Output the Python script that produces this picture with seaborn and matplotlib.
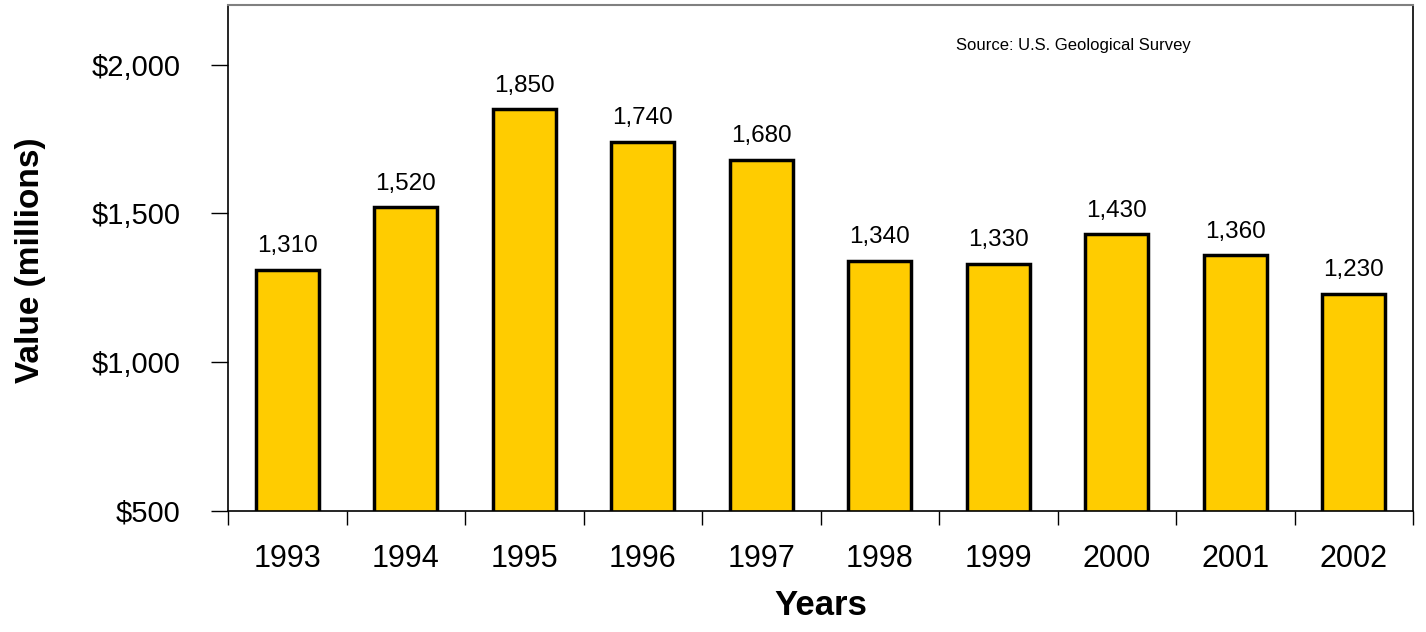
import matplotlib
matplotlib.use("Agg")
import matplotlib.pyplot as plt
import seaborn as sns
import pandas as pd
from matplotlib.ticker import FixedLocator, FuncFormatter

years = ["1993", "1994", "1995", "1996", "1997", "1998", "1999", "2000", "2001", "2002"]
values = [1310, 1520, 1850, 1740, 1680, 1340, 1330, 1430, 1360, 1230]
y_ticks = [500, 1000, 1500, 2000]
source_text = "Source: U.S. Geological Survey"

sns.set_style("white")
plt.rcParams['font.family'] = ['Liberation Sans', 'DejaVu Sans']
plt.rcParams['text.color'] = 'black'
plt.rcParams['axes.labelcolor'] = 'black'
plt.rcParams['xtick.color'] = 'black'
plt.rcParams['ytick.color'] = 'black'

fig = plt.figure(figsize=(14.26, 6.32), dpi=100)
ax = fig.add_axes([228/1426, 1-511/632, (1413-228)/1426, (511-5)/632])

df = pd.DataFrame({"Year": years, "Value": values})
sns.barplot(data=df, x="Year", y="Value", color="#FFCC00", width=0.53,
            edgecolor="black", linewidth=2.5, saturation=1, ax=ax)

ax.set_ylim(500, 2200)
ax.set_xlim(-0.5, len(years) - 0.5)

ax.yaxis.set_major_locator(FixedLocator(y_ticks))
ax.yaxis.set_major_formatter(FuncFormatter(lambda v, p: f"${v:,.0f}"))
ax.tick_params(axis='y', which='major', direction='out', length=12, width=1,
               color='black', labelcolor='black', labelsize=21, pad=22, left=True)

ax.set_xticks(range(len(years)))
ax.set_xticklabels(years)
ax.tick_params(axis='x', which='major', length=0, labelsize=22, pad=24,
               labelcolor='black')
ax.set_xticks([i - 0.5 for i in range(len(years) + 1)], minor=True)
ax.tick_params(axis='x', which='minor', direction='out', length=10, width=1,
               color='black', bottom=True)

for s in ['left', 'bottom', 'right']:
    ax.spines[s].set_visible(True)
    ax.spines[s].set_color('black')
    ax.spines[s].set_linewidth(1.2)
ax.spines['top'].set_visible(True)
ax.spines['top'].set_color('#808080')
ax.spines['top'].set_linewidth(1.5)

for i, v in enumerate(values):
    ax.annotate(f"{v:,}", (i, v), xytext=(0, 9), textcoords="offset points",
                ha='center', va='bottom', fontsize=17.5, color='black')

ax.text(0.713, 0.919, source_text, transform=ax.transAxes, ha='center',
        va='center', fontsize=12, color='black')

ax.set_ylabel("Value (millions)", fontsize=24, fontweight='bold', color='black')
ax.yaxis.set_label_coords(-0.154, 0.496)
ax.set_xlabel("Years", fontsize=25, fontweight='bold', color='black')
ax.xaxis.set_label_coords(0.5, -0.155)

fig.savefig("out.png", dpi=100)
